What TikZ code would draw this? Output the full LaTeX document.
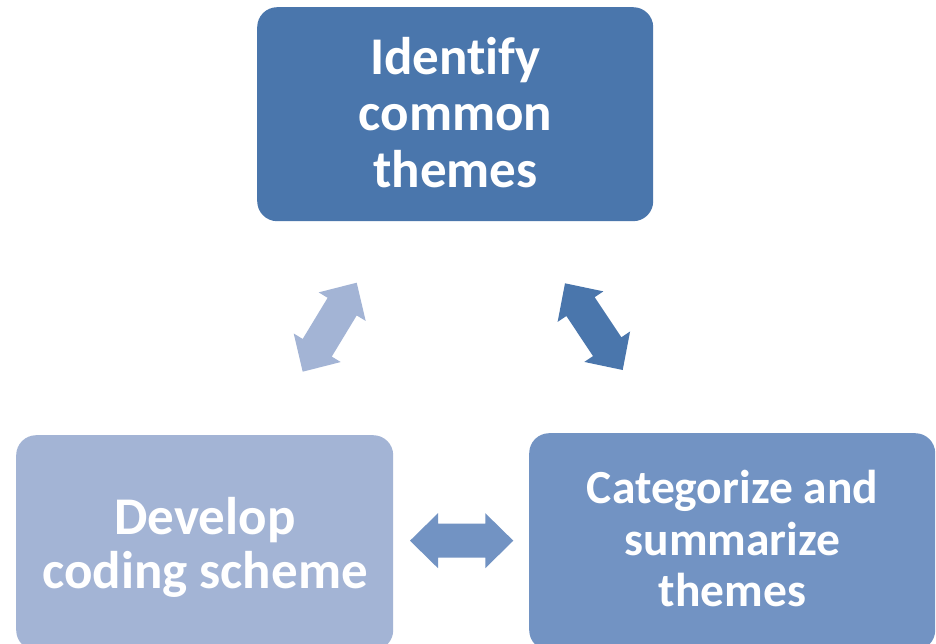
\documentclass[tikz,border=0pt]{standalone}
\usepackage{fontspec}
\setmainfont{Carlito}[Ligatures=NoCommon]
\usetikzlibrary{calc}

\definecolor{stepdark}{HTML}{4A76AC}
\definecolor{stepmid}{HTML}{7293C3}
\definecolor{steplight}{HTML}{A3B4D5}

% Block double-headed arrow between two named points:
% head length 28pt, head width 55pt, shaft width 34pt.
\newcommand\twowayarrow[3]{%
  \fill[#3] (#1)
    -- ($(#1)!28pt!(#2)!27.5pt!90:(#2)$)
    -- ($(#1)!28pt!(#2)!17pt!90:(#2)$)
    -- ($(#2)!28pt!(#1)!17pt!-90:(#1)$)
    -- ($(#2)!28pt!(#1)!27.5pt!-90:(#1)$)
    -- (#2)
    -- ($(#2)!28pt!(#1)!27.5pt!90:(#1)$)
    -- ($(#2)!28pt!(#1)!17pt!90:(#1)$)
    -- ($(#1)!28pt!(#2)!17pt!-90:(#2)$)
    -- ($(#1)!28pt!(#2)!27.5pt!-90:(#2)$)
    -- cycle;}

\begin{document}
\begin{tikzpicture}[x=1pt,y=-1pt,
  stepbox/.style={rounded corners=20pt, inner sep=0pt, anchor=north west},
  steptext/.style={text=white, align=center, inner sep=0pt}]
\useasboundingbox[fill=white] (0,0) rectangle (936,644);

\begin{scope}
  \clip (0,0) rectangle (936,644);
  % the three stages
  \node[stepbox, fill=stepdark, minimum width=396pt, minimum height=214pt]
    (identify) at (257,7) {};
  \node[stepbox, fill=steplight, minimum width=377pt, minimum height=215pt]
    (develop) at (16,435) {};
  \node[stepbox, fill=stepmid, minimum width=406pt, minimum height=217pt]
    (categorize) at (529,433) {};
\end{scope}

\node[steptext, font=\fontsize{53}{56.5}\bfseries\selectfont]
  (identifyText) at (455.5,112.5) {Identify\\common\\themes};
\node[steptext, font=\fontsize{53}{54}\bfseries\selectfont]
  (developText) at (205,547.5) {Develop\\coding scheme};
\node[steptext, font=\fontsize{47.5}{51.5}\bfseries\selectfont]
  (categorizeText) at (732.5,539) {Categorize and\\summarize\\themes};

% arrow end points
\coordinate (devTip) at (302.7,371.7);
\coordinate (idTipL) at (356.7,282.7);
\coordinate (idTipR) at (565,283.3);
\coordinate (catTipT) at (622.7,370);
\coordinate (devTipR) at (410,540.7);
\coordinate (catTipL) at (513.3,540.7);

\twowayarrow{devTip}{idTipL}{steplight}
\twowayarrow{idTipR}{catTipT}{stepdark}
\twowayarrow{devTipR}{catTipL}{stepmid}
\end{tikzpicture}
\end{document}
